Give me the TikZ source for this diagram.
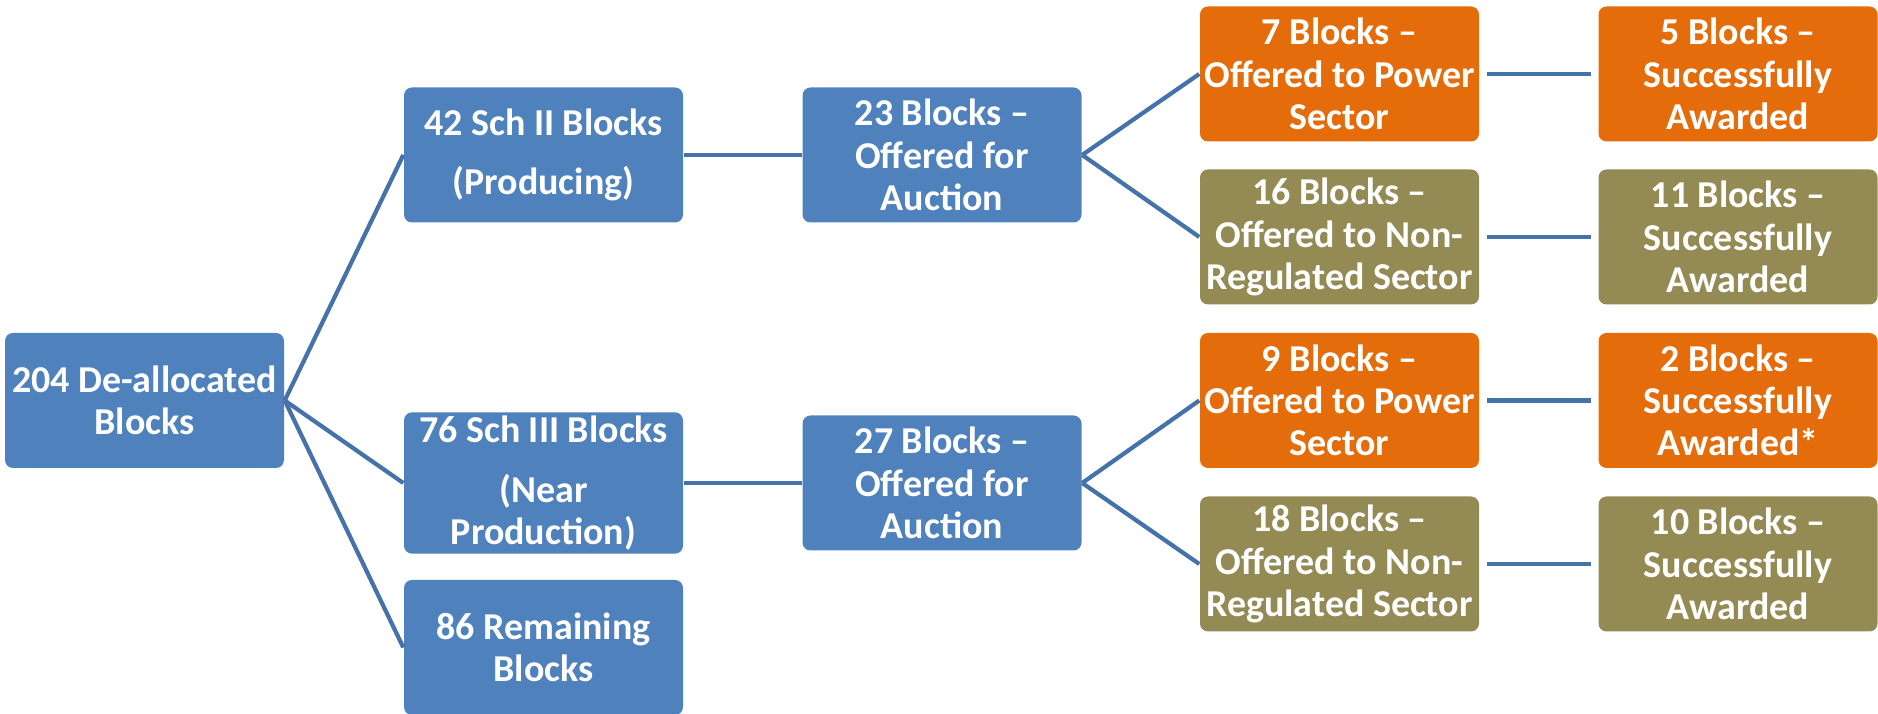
\documentclass[tikz,border=0pt]{standalone}
\usepackage{fontspec}
\setmainfont{Carlito}
\usetikzlibrary{calc,positioning}
\definecolor{boxblue}{RGB}{79,129,189}
\definecolor{boxorange}{RGB}{228,108,10}
\definecolor{boxolive}{RGB}{148,138,84}
\definecolor{edgeblue}{RGB}{70,114,170}
\tikzset{edge/.style={edgeblue,line width=1.2pt}}

\begin{document}
\begin{tikzpicture}[font=\bfseries]

\tikzset{bluebox/.style={fill=boxblue,text=white,rounded corners=0.8mm,minimum width=2.79cm,minimum height=1.35cm,inner sep=1pt,align=center,font=\fontsize{10.8}{12}\selectfont\bfseries},
orangebox/.style={bluebox,fill=boxorange},
olivebox/.style={bluebox,fill=boxolive}}

\useasboundingbox (0,0) rectangle (18.78,-7.14);

% Root
\node[bluebox] (root) at (1.445,-4.005) {204 De-allocated\\Blocks};

% Schedules
\node[bluebox] (sch2) at (5.435,-1.55) {42 Sch II Blocks\\[5pt](Producing)};
\node[bluebox] (sch3) at (5.435,-4.83) {76 Sch III Blocks\\[5pt](Near\\Production)};
\node[bluebox] (rem) at (5.435,-6.475) {86 Remaining\\Blocks};

% Auction nodes
\node[bluebox] (auc1) at ($(sch2) + (3.985,0)$) {23 Blocks --\\Offered for\\Auction};
\node[bluebox] (auc2) at ($(sch3) + (3.985,0)$) {27 Blocks --\\Offered for\\Auction};

% Sector nodes
\node[orangebox] (pow1) at ($(auc1) + (3.975,0.81)$) {7 Blocks --\\Offered to Power\\Sector};
\node[olivebox] (non1) at ($(auc1) + (3.975,-0.82)$) {16 Blocks --\\Offered to Non-\\Regulated Sector};
\node[orangebox] (pow2) at ($(auc2) + (3.975,0.825)$) {9 Blocks --\\Offered to Power\\Sector};
\node[olivebox] (non2) at ($(auc2) + (3.975,-0.81)$) {18 Blocks --\\Offered to Non-\\Regulated Sector};

% Awarded nodes
\foreach \n/\t/\s in {pow1/5 Blocks/,pow2/2 Blocks/*} \node[orangebox] (aw\n) at ($(\n) + (3.985,0)$) {\t\ --\\Successfully\\Awarded\s};
\foreach \n/\t in {non1/11 Blocks,non2/10 Blocks} \node[olivebox] (aw\n) at ($(\n) + (3.985,0)$) {\t\ --\\Successfully\\Awarded};

% Edges
\draw[edge] (root.east) -- (sch2.west); \draw[edge] (root.east) -- (sch3.west); \draw[edge] (root.east) -- (rem.west);
\draw[edge] (sch2) -- (auc1); \draw[edge] (sch3) -- (auc2);
\foreach \a/\b in {auc1/pow1,auc1/non1,auc2/pow2,auc2/non2} \draw[edge] (\a.east) -- (\b.west);
\foreach \n in {pow1,non1,pow2,non2} \draw[edge,shorten <=2pt,shorten >=2pt] (\n) -- (aw\n);

\end{tikzpicture}
\end{document}
